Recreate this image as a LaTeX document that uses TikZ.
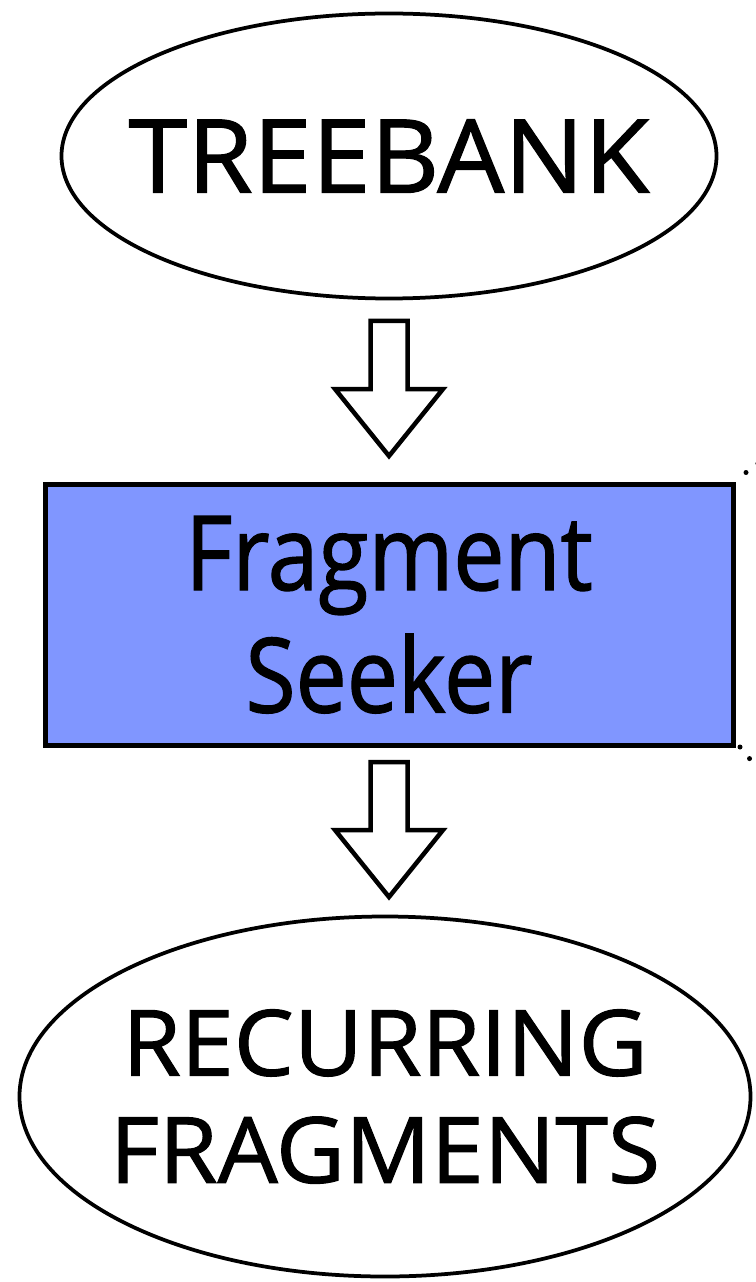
\documentclass[tikz,border=0pt]{standalone}
\usepackage{fontspec}
\setmainfont{Open Sans}[FakeStretch=0.88, FakeBold=1.2]
\newfontfamily\capsfont{Open Sans}[FakeStretch=1.04, FakeBold=1.2]
\usetikzlibrary{positioning,shapes.geometric}
\definecolor{seekerblue}{RGB}{128,150,255}
\tikzset{
bigoval/.style={ellipse, draw=black, line width=0.075cm, outer sep=0pt, inner xsep=-2cm, inner ysep=0pt, align=center},
punktbox/.style={rectangle, draw=black, line width=0.1cm, fill=seekerblue, outer sep=0pt, minimum width=13.76cm, minimum height=5.21cm, align=center},
hollowdown/.pic={
  \draw[line width=0.09cm, fill=white] (-0.37,0) -- (0.37,0) -- (0.37,-1.36) -- (1.08,-1.36)
    -- (0,-2.7) -- (-1.08,-1.36) -- (-0.37,-1.36) -- cycle;
},
loose/.style={line width=0.1cm, line cap=round, dash pattern=on 0pt off 0.3cm},
}

\begin{document}
\begin{tikzpicture}
\useasboundingbox (0,0) rectangle (15.1,-25.64);

\node[bigoval, minimum width=13.1cm, minimum height=5.7cm, font=\capsfont\fontsize{58}{60}\selectfont] (treebank) at (7.78,-3.12) {TREEBANK};

\node[punktbox, below=3.72cm of treebank, font=\fontsize{59}{69.6}\selectfont] (seeker) {Fragment\\Seeker};

\node[bigoval, below=3.43cm of seeker, xshift=-0.08cm, minimum width=14.62cm, minimum height=7.2cm,
  font=\capsfont\fontsize{52}{62.4}\selectfont] (fragments) {RECURRING\\[-0.05cm]FRAGMENTS};

% hollow arrows between the stages
\coordinate[below=0.45cm of treebank] (arrowA);
\coordinate[below=0.34cm of seeker] (arrowB);
\pic at (arrowA) {hollowdown};
\pic at (arrowB) {hollowdown};

% dotted guides leaving the box
\coordinate (gupper) at ([shift={(0.6,0.5)}]seeker.north east);
\coordinate (glower) at ([shift={(0.6,-0.6)}]seeker.south east);
\draw[loose] ([shift={(0.26,0.24)}]seeker.north east) -- (gupper);
\draw[loose] ([shift={(0.14,-0.04)}]seeker.south east) -- (glower);
\end{tikzpicture}
\end{document}
